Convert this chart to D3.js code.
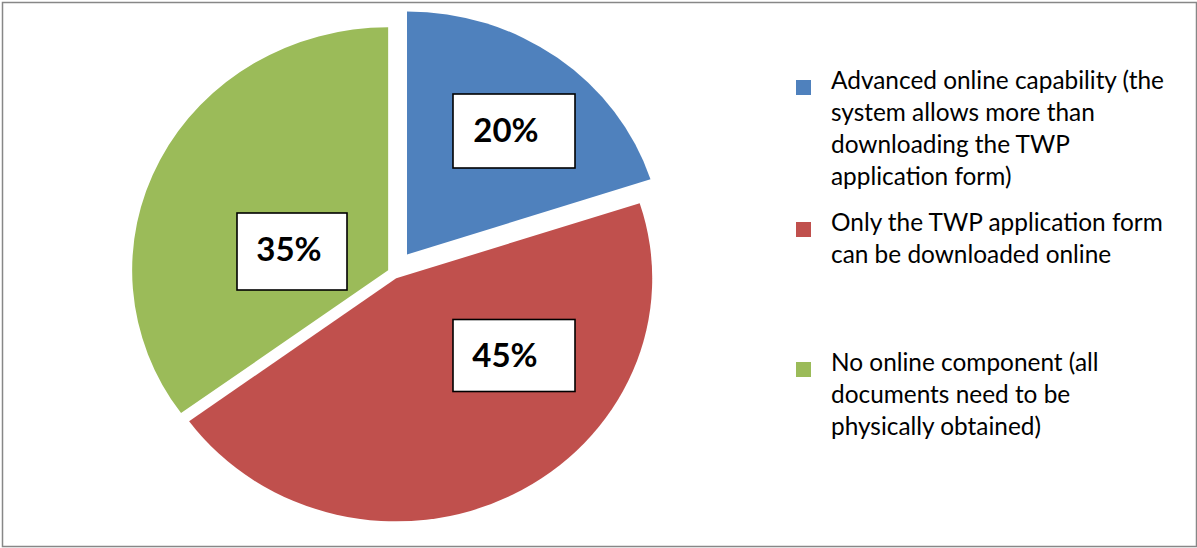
<!DOCTYPE html>
<html>
<head>
<meta charset="utf-8">
<script src="https://cdn.jsdelivr.net/npm/d3@7"></script>
<style>
  html, body { margin: 0; padding: 0; background: #ffffff; }
  svg { display: block; }
</style>
</head>
<body>
<svg id="chart" width="1197" height="548"></svg>
<script>
// Share of systems by level of online support for the TWP application
const categories = [
  "Advanced online capability (the system allows more than downloading the TWP application form)",
  "Only the TWP application form can be downloaded online",
  "No online component (all documents need to be physically obtained)"
];
const legendLines = [
  ["Advanced online capability (the", "system allows more than", "downloading the TWP", "application form)"],
  ["Only the TWP application form", "can be downloaded online"],
  ["No online component (all", "documents need to be", "physically obtained)"]
];
const values = [20, 45, 35];
const colors = ["#4F81BD", "#C0504D", "#9BBB59"];

const svg = d3.select("#chart");
const W = 1197, H = 548;

// outer frame
svg.append("rect")
  .attr("x", 2.5).attr("y", 2.5)
  .attr("width", W - 3).attr("height", H - 4)
  .attr("fill", "#ffffff")
  .attr("stroke", "#878787")
  .attr("stroke-width", 1.5);

// pie geometry (slightly wider than tall)
const cx = 393.5, cy = 273;
const ry = 243, rx = 256;
const sx = rx / ry;
const explode = [23, 6, 6];

const pie = d3.pie().sort(null).value(d => d);
const arc = d3.arc().innerRadius(0).outerRadius(ry);
const arcsData = pie(values);

const slices = svg.append("g").attr("class", "slices");
slices.selectAll("g.slice")
  .data(arcsData)
  .join("g")
  .attr("class", "slice")
  .attr("transform", (d, i) => {
    const mid = (d.startAngle + d.endAngle) / 2;
    const ox = Math.sin(mid) * explode[i];
    const oy = -Math.cos(mid) * explode[i];
    return `translate(${cx + ox},${cy + oy}) scale(${sx},1)`;
  })
  .append("path")
  .attr("d", arc)
  .attr("fill", (d, i) => colors[i]);

// percentage labels in boxed callouts
const labelBoxes = [
  { dx: 120.5, dy: -142, w: 122, h: 74, tx: -8, ty: 10.5 },
  { dx: 120.5, dy: 82.5, w: 122, h: 72, tx: -9, ty: 11 },
  { dx: -101.5, dy: -21.5, w: 110, h: 77, tx: -3, ty: 9.5 }
];
const labels = svg.append("g").attr("class", "labels");
const lg = labels.selectAll("g.lbl")
  .data(arcsData)
  .join("g")
  .attr("class", "lbl")
  .attr("transform", (d, i) => `translate(${cx + labelBoxes[i].dx},${cy + labelBoxes[i].dy})`);
lg.append("rect")
  .attr("x", (d, i) => -labelBoxes[i].w / 2)
  .attr("y", (d, i) => -labelBoxes[i].h / 2)
  .attr("width", (d, i) => labelBoxes[i].w)
  .attr("height", (d, i) => labelBoxes[i].h)
  .attr("fill", "#ffffff")
  .attr("stroke", "#000000")
  .attr("stroke-width", 1.6);
lg.append("text")
  .attr("x", (d, i) => labelBoxes[i].tx)
  .attr("y", (d, i) => labelBoxes[i].ty)
  .attr("text-anchor", "middle")
  .attr("font-family", "Lato, 'Open Sans', sans-serif")
  .attr("font-weight", "bold")
  .attr("font-size", 33)
  .attr("fill", "#000000")
  .text(d => d3.format(".0%")(d.value / d3.sum(values)));

// legend
const legendX = 796, legendTextX = 831;
const legendTop = [80, 222, 362];
const lineGap = 32.3;
const legend = svg.append("g").attr("class", "legend");
const items = legend.selectAll("g.item")
  .data(categories)
  .join("g")
  .attr("class", "item");
items.append("rect")
  .attr("x", legendX)
  .attr("y", (d, i) => legendTop[i])
  .attr("width", 15)
  .attr("height", 15)
  .attr("fill", (d, i) => colors[i]);
items.append("text")
  .attr("font-family", "Lato, 'Open Sans', sans-serif")
  .attr("font-size", 24.4)
  .attr("fill", "#000000")
  .selectAll("tspan")
  .data((d, i) => legendLines[i].map((t, k) => ({ t, k, i })))
  .join("tspan")
  .attr("x", legendTextX)
  .attr("y", d => legendTop[d.i] + 8.5 + d.k * lineGap)
  .text(d => d.t);
</script>
</body>
</html>
